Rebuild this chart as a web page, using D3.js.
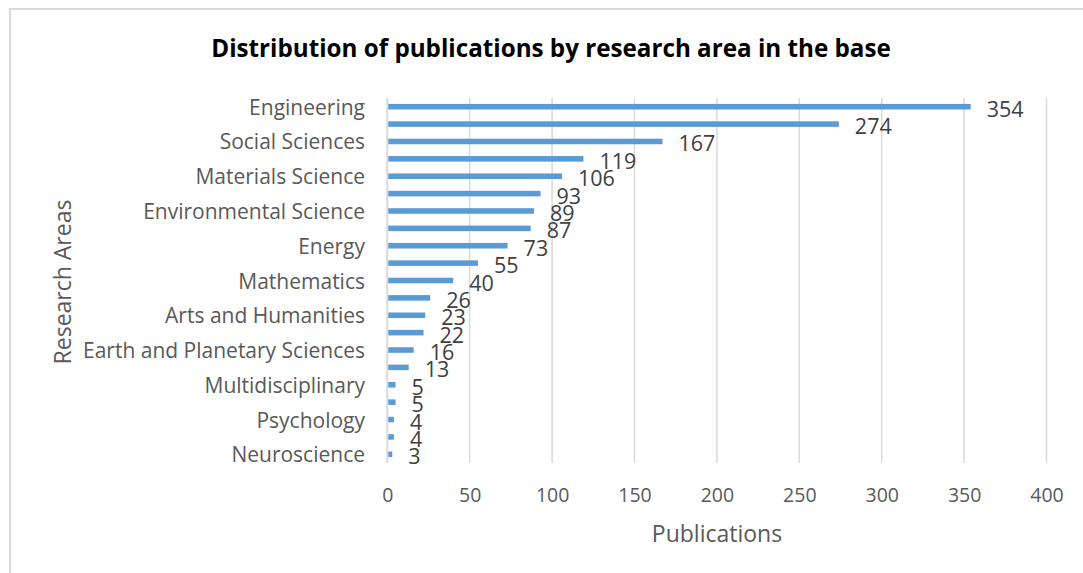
<!DOCTYPE html>
<html>
<head>
<meta charset="utf-8">
<script src="https://cdn.jsdelivr.net/npm/d3@7"></script>
<style>
  html, body { margin: 0; padding: 0; background: #fff; }
  svg { display: block; font-family: "Open Sans", sans-serif; }
</style>
</head>
<body>
<svg id="chart" width="1083" height="573"></svg>
<script>
// Data (top to bottom as in the chart); only every other category label is shown
const categories = [
  "Engineering", "Computer Science", "Social Sciences", "Business, Management and Accounting",
  "Materials Science", "Decision Sciences", "Environmental Science",
  "Economics, Econometrics and Finance", "Energy", "Physics and Astronomy", "Mathematics",
  "Chemical Engineering", "Arts and Humanities", "Chemistry", "Earth and Planetary Sciences",
  "Agricultural and Biological Sciences", "Multidisciplinary", "Medicine", "Psychology",
  "Health Professions", "Neuroscience"
];
const values = [354, 274, 167, 119, 106, 93, 89, 87, 73, 55, 40, 26, 23, 22, 16, 13, 5, 5, 4, 4, 3];
const xTicks = [0, 50, 100, 150, 200, 250, 300, 350, 400];
const titleText = "Distribution of publications by research area in the base";
const xTitle = "Publications";
const yTitle = "Research Areas";

const svg = d3.select("#chart");
const W = 1083, H = 573;

// chart border (light gray, top and left visible)
svg.append("rect").attr("x", 10).attr("y", 9).attr("width", W + 10).attr("height", H + 10)
  .attr("fill", "#fff").attr("stroke", "#d9d9d9").attr("stroke-width", 2);

const plot = { left: 387.3, right: 1046.5, top: 98, bottom: 463 };

const x = d3.scaleLinear().domain([0, 400]).range([plot.left, plot.right]);
const y = d3.scaleBand().domain(categories).range([plot.top, plot.bottom])
  .paddingInner(0.68).paddingOuter(0.34);

// gridlines
svg.append("g").selectAll("line").data(xTicks).join("line")
  .attr("x1", d => x(d)).attr("x2", d => x(d))
  .attr("y1", plot.top).attr("y2", plot.bottom)
  .attr("stroke", "#d9d9d9").attr("stroke-width", d => d === 0 ? 2 : 1.5);

// bars
svg.append("g").selectAll("rect").data(values).join("rect")
  .attr("x", x(0) + 1)
  .attr("y", (d, i) => y(categories[i]))
  .attr("width", d => x(d) - x(0) - 1)
  .attr("height", y.bandwidth())
  .attr("fill", "#5b9bd5");

// data labels
svg.append("g").selectAll("text").data(values).join("text")
  .attr("x", d => x(d) + 16)
  .attr("y", (d, i) => y(categories[i]) + y.bandwidth() / 2 + 1.5)
  .attr("dominant-baseline", "central")
  .attr("font-size", 21.5)
  .attr("fill", "#404040")
  .text(d => d);

// x axis (tick labels only)
const xAxis = d3.axisBottom(x).tickValues(xTicks).tickSize(0).tickPadding(0);
const gx = svg.append("g").attr("transform", `translate(0,${plot.bottom})`).call(xAxis);
gx.select(".domain").remove();
gx.selectAll("text")
  .attr("y", 31).attr("dy", null)
  .attr("dominant-baseline", "central")
  .attr("font-size", 19.5)
  .attr("font-family", "Open Sans, sans-serif")
  .attr("fill", "#595959");

// y axis (every other category label)
const yAxis = d3.axisLeft(y).tickValues(categories.filter((c, i) => i % 2 === 0))
  .tickSize(0).tickPadding(0);
const gy = svg.append("g").attr("transform", `translate(365,0)`).call(yAxis);
gy.select(".domain").remove();
gy.selectAll("text")
  .attr("x", 0).attr("dy", null)
  .attr("dominant-baseline", "central")
  .attr("font-size", 21)
  .attr("font-family", "Open Sans, sans-serif")
  .attr("fill", "#595959");

// axis titles
svg.append("text").attr("x", 717).attr("y", 533)
  .attr("text-anchor", "middle").attr("dominant-baseline", "central")
  .attr("font-size", 23).attr("fill", "#595959").text(xTitle);

svg.append("text").attr("transform", "translate(62,282) rotate(-90)")
  .attr("text-anchor", "middle").attr("dominant-baseline", "central")
  .attr("font-size", 23).attr("fill", "#595959").text(yTitle);

// title
const t = svg.append("text").attr("x", 551).attr("y", 47)
  .attr("text-anchor", "middle").attr("dominant-baseline", "central")
  .attr("font-size", 24).attr("font-weight", "bold").attr("fill", "#000")
  .text(titleText);
const tl = t.node().getComputedTextLength();
t.attr("font-size", 24 * 680 / tl);
</script>
</body>
</html>
